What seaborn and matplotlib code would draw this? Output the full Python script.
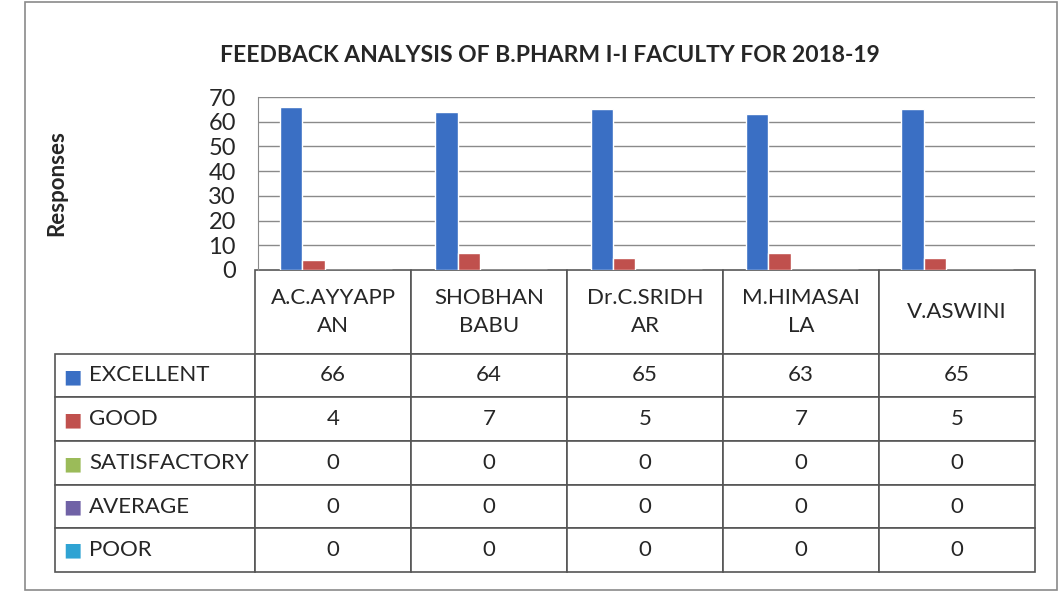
import pandas as pd
import seaborn as sns
import matplotlib.pyplot as plt
from matplotlib.patches import Rectangle

faculty = ['A.C.AYYAPP\nAN', 'SHOBHAN\nBABU', 'Dr.C.SRIDH\nAR', 'M.HIMASAI\nLA', 'V.ASWINI']
ratings = ['EXCELLENT', 'GOOD', 'SATISFACTORY', 'AVERAGE', 'POOR']
excellent = [66, 64, 65, 63, 65]
good = [4, 7, 5, 7, 5]
satisfactory = [0, 0, 0, 0, 0]
average = [0, 0, 0, 0, 0]
poor = [0, 0, 0, 0, 0]
colors = ['#3A6FC4', '#C0504D', '#9BBB59', '#7062A6', '#2FA3D3']

series = [excellent, good, satisfactory, average, poor]
rows = []
for r, vals in zip(ratings, series):
    for f, v in zip(faculty, vals):
        rows.append({'faculty': f, 'rating': r, 'value': v})
df = pd.DataFrame(rows)

sns.set_style('white')
plt.rcParams['font.family'] = ['Lato', 'DejaVu Sans']

W, H = 1064, 598
fig = plt.figure(figsize=(W / 100, H / 100), dpi=100)
ax = fig.add_axes([258 / W, (H - 270) / H, 777 / W, 173 / H])

sns.barplot(data=df, x='faculty', y='value', hue='rating', order=faculty,
            hue_order=ratings, palette=colors, width=0.72, saturation=1,
            legend=False, ax=ax)

ax.set_ylim(0, 70)
ax.set_yticks(range(0, 71, 10))
ax.yaxis.grid(True, color='#8a8a8a', linewidth=1)
ax.set_axisbelow(True)
ax.tick_params(axis='y', length=0, pad=16, labelsize=17)
ax.tick_params(axis='x', length=0, labelbottom=False)
ax.set_xlabel('')
ax.set_ylabel('Responses', fontsize=16, fontweight='bold')
ax.yaxis.set_label_coords(-0.245, 0.5)
for s in ['top', 'right', 'bottom']:
    ax.spines[s].set_visible(False)
ax.spines['left'].set_color('#8a8a8a')

# data table under the plot
cell_text = [[''] + faculty]
for r, vals in zip(ratings, series):
    cell_text.append([r] + [str(v) for v in vals])
tbl = ax.table(cellText=cell_text, colWidths=[200] + [156] * 5,
               cellLoc='center', bbox=[-0.261, -1.746, 1.261, 1.746])
tbl.auto_set_font_size(False)
for (i, j), cell in tbl.get_celld().items():
    cell.set_edgecolor('#555555')
    cell.set_linewidth(1.2)
    cell.set_height(83 if i == 0 else 43.4)
    cell.get_text().set_fontsize(16)
    if i == 0 and j == 0:
        cell.visible_edges = 'open'
    if j == 0 and i > 0:
        cell._loc = 'left'
        cell.get_text().set_ha('left')
        cell.PAD = 0.17
    if i == 0 and j > 0:
        cell.get_text().set_linespacing(1.5)

# legend keys in the row labels
row_h = 217 / 5
for k, c in enumerate(colors):
    yc = -(85 + row_h * (k + 0.5)) / 173
    ax.text(-0.239, yc, '■', color=c, fontsize=14, family='DejaVu Sans',
            ha='center', va='center', transform=ax.transAxes, clip_on=False)

fig.suptitle('FEEDBACK ANALYSIS OF B.PHARM I-I FACULTY FOR 2018-19',
             x=0.517, y=1 - 55 / H, va='center', fontsize=16.5, fontweight='bold')
fig.patches.append(Rectangle((25 / W, 8 / H), 1032 / W, 588 / H, fill=False,
                             edgecolor='#8a8a8a', linewidth=1.2,
                             transform=fig.transFigure))

fig.savefig('out.png', dpi=100)
